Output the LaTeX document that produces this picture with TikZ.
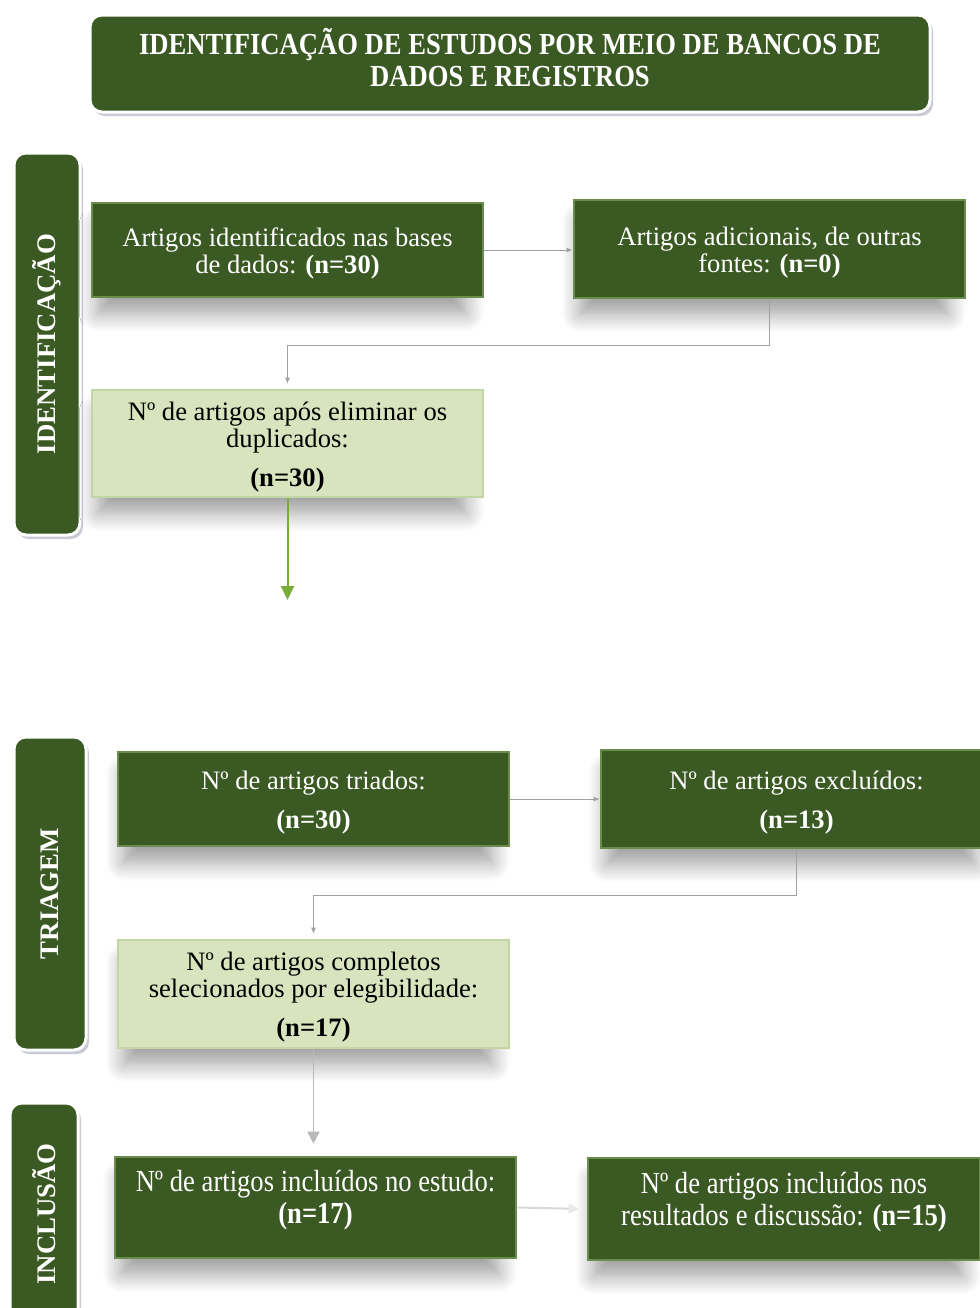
\documentclass[tikz,border=0pt]{standalone}
\usepackage{fontspec}
\setmainfont{Liberation Serif}
\newfontfamily\tallserif{Liberation Serif}[FakeStretch=0.87]
\usetikzlibrary{shadows,shadows.blur,arrows.meta,calc}

\definecolor{dkgreen}{RGB}{59,89,35}
\definecolor{bevelgreen}{RGB}{108,140,78}
\definecolor{lightbox}{RGB}{215,228,189}
\definecolor{lightbevel}{RGB}{196,213,165}
\definecolor{framegray}{RGB}{200,202,212}
\definecolor{linkgray}{RGB}{160,160,160}
\definecolor{palegray}{RGB}{200,200,200}
\definecolor{arrowgreen}{RGB}{122,172,58}

\newcommand\boxfont{\fontsize{13.3}{13.5}\selectfont}
\newcommand\tallfont{\tallserif\fontsize{15.3}{16}\selectfont}
\newcommand\headfont{\tallserif\fontsize{15.3}{16}\selectfont\bfseries}
\newcommand\phasefont{\fontsize{13.4}{14}\selectfont\bfseries}

\tikzset{
  boxbase/.style={rectangle, inner sep=0pt,
    blur shadow={shadow xshift=-3pt, shadow yshift=-10pt, shadow opacity=40,
                 shadow blur radius=10pt, shadow blur steps=12, shadow scale=0.94}},
  darkbox/.style={boxbase, fill=dkgreen, draw=bevelgreen, line width=1.3pt},
  lightbx/.style={boxbase, fill=lightbox, draw=lightbevel, line width=1.3pt},
  % text carried by each box, nudged to sit where it belongs
  darktext/.style={text=white, font=\boxfont, align=center, yshift=-1.75pt},
  lighttext/.style={text=black, font=\boxfont, align=center, yshift=-1.75pt},
  talltext/.style={text=white, font=\tallfont, align=center, yshift=3.5pt},
  headtext/.style={text=white, font=\headfont, align=center, yshift=3pt},
  framed/.style={rounded corners=6pt, fill=dkgreen, draw=white, line width=1.5pt,
    general shadow={fill=framegray, shadow xshift=1.5pt, shadow yshift=-2pt},
    text=white, inner sep=0pt, align=center},
  sidebox/.style={framed, rotate=90, font=\phasefont},
  link/.style={draw=linkgray, line width=0.5pt, -{Latex[length=3pt,width=2.5pt]}}
}

\begin{document}
\begin{tikzpicture}[x=0.5pt, y=-0.5pt]
\useasboundingbox (0,0) rectangle (980,1308);

% heading banner
\node[framed, minimum width=420pt, minimum height=48.5pt,
      label={[name=titletext, headtext]center:{IDENTIFICAÇÃO DE ESTUDOS POR MEIO DE BANCOS DE\\DADOS E REGISTROS}}]
  (title) at (510,63.5) {};

% phase labels
\node[sidebox, minimum width=191pt, minimum height=33pt] (ident) at (47,344) {\textbf{IDENTIFICAÇÃO}};
\node[sidebox, minimum width=156.5pt, minimum height=36pt] (triag) at (50,893.5) {\textbf{TRIAGEM}};
\node[sidebox, minimum width=111pt, minimum height=34pt] (incl) at (44,1214) {\textbf{INCLUSÃO}};

% identification stage
\node[darkbox, minimum width=195.5pt, minimum height=47pt,
      label={[name=At, darktext]center:{Artigos identificados nas bases\\de dados: \textbf{(n=30)}}}]
  (A) at (287.5,250) {};
\node[darkbox, minimum width=195.5pt, minimum height=49pt,
      label={[name=Bt, darktext]center:{Artigos adicionais, de outras\\fontes: \textbf{(n=0)}}}]
  (B) at (769.5,249) {};
\node[lightbx, minimum width=195.5pt, minimum height=53.5pt,
      label={[name=Ct, lighttext]center:{Nº de artigos após eliminar os\\duplicados:\\[6pt]\textbf{(n=30)}}}]
  (C) at (287.5,443.5) {};
\coordinate (Cend) at (287.5,600);

% screening stage
\node[darkbox, minimum width=195.5pt, minimum height=47pt,
      label={[name=Dt, darktext]center:{Nº de artigos triados:\\[6pt]\textbf{(n=30)}}}]
  (D) at (313.5,799) {};
\node[darkbox, minimum width=195.5pt, minimum height=49pt,
      label={[name=Et, darktext]center:{Nº de artigos excluídos:\\[6pt]\textbf{(n=13)}}}]
  (E) at (796.5,799) {};
\node[lightbx, minimum width=195.5pt, minimum height=54pt,
      label={[name=Ft, lighttext]center:{Nº de artigos completos\\selecionados por elegibilidade:\\[6pt]\textbf{(n=17)}}}]
  (F) at (313.5,994) {};

% inclusion stage
\node[darkbox, minimum width=200.5pt, minimum height=50.5pt,
      label={[name=Gt, talltext]center:{Nº de artigos incluídos no estudo:\\\textbf{(n=17)}}}]
  (G) at (315.5,1207.5) {};
\node[darkbox, minimum width=196pt, minimum height=51pt,
      label={[name=Ht, talltext]center:{Nº de artigos incluídos nos\\resultados e discussão: \textbf{(n=15)}}}]
  (H) at (784,1209) {};

% connectors
\draw[link] (A.east) -- (A.east -| B.west);
\draw[link, shorten >=2.5pt] (B.south) -- (B.south |- 0,345) -| (C.north);
\draw[arrowgreen, line width=1pt, -{Triangle[length=7pt,width=6.5pt]}] (C.south) -- (Cend);

\draw[link] (D.east) -- (D.east -| E.west);
\draw[link, shorten >=2.5pt] (E.south) -- (E.south |- 0,895) -| (F.north);
\draw[draw=palegray!80!gray, line width=0.8pt, shorten >=6pt,
      -{Triangle[length=6pt,width=6pt]}] (F.south) -- (F.south |- G.north);

\draw[draw=palegray!70, line width=1pt, shorten >=4pt,
      -{Triangle[length=5pt,width=5pt,color=palegray!40]}] (G.east) -- (H.west);
\end{tikzpicture}
\end{document}
